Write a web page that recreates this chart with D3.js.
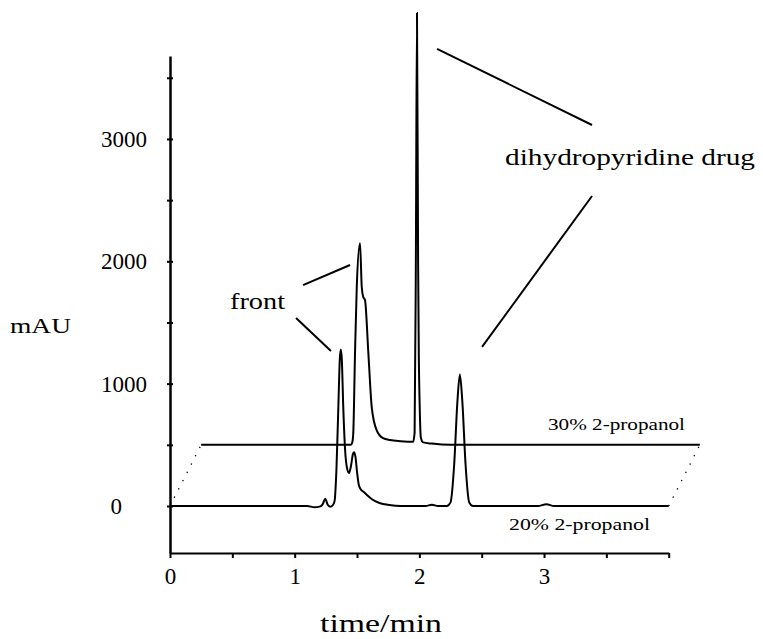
<!DOCTYPE html>
<html>
<head>
<meta charset="utf-8">
<script src="https://cdn.jsdelivr.net/npm/d3@7"></script>
<style>
    body { margin: 0; background: #fff; }
    svg text { font-family: "Liberation Serif", "Times New Roman", serif; fill: #000; }
</style>
</head>
<body>
<div id="chart"></div>
<script>
// tick labels
var timeTicks = [0, 1, 2, 3];
var absTicks = [0, 1000, 2000, 3000];

// chromatograms, [time (min), absorbance (mAU)]
var trace20 = [
    [0, 0], [1.10, 0], [1.16, -10], [1.20, -5], [1.225, 15], [1.245, 60], [1.265, 10],
    [1.285, -5], [1.305, 5], [1.320, 40], [1.335, 300], [1.350, 800], [1.362, 1200],
    [1.370, 1280], [1.378, 1200], [1.390, 800], [1.405, 450], [1.420, 310], [1.436, 270],
    [1.452, 330], [1.466, 420], [1.476, 440], [1.488, 400], [1.500, 280], [1.515, 170],
    [1.535, 130], [1.555, 115], [1.58, 90], [1.62, 55], [1.68, 25], [1.76, 8], [1.85, 0],
    [2.05, 0], [2.10, 10], [2.15, 0], [2.22, 0], [2.25, 30], [2.28, 350], [2.305, 850],
    [2.325, 1074], [2.345, 850], [2.37, 350], [2.40, 30], [2.43, 0], [2.95, 0], [3.02, 15],
    [3.08, 0], [4.0, 0]
];
var trace30 = [
    [0, 0], [1.20, 0], [1.212, 20], [1.220, 96], [1.234, 750], [1.248, 1290], [1.274, 1650],
    [1.288, 1290], [1.300, 1208], [1.314, 1184], [1.341, 750], [1.368, 309], [1.408, 119],
    [1.459, 55], [1.515, 39], [1.60, 30], [1.70, 25], [1.712, 100], [1.722, 1500],
    [1.731, 3530], [1.740, 1500], [1.746, 700], [1.752, 350], [1.762, 60], [1.78, 20],
    [1.85, 10], [2.0, 0], [4.0, 0]
];

// the 30% trace is drawn offset (pseudo 3D stacking)
var stackShift = [0.25, 500];

var traceLabels = ["30% 2-propanol", "20% 2-propanol"];
var peakLabels = ["front", "dihydropyridine drug"];
var axisTitles = ["time/min", "mAU"];

var width = 763, height = 639;

var svg = d3.select("#chart")
    .append("svg")
    .attr("width", width)
    .attr("height", height);

svg.append("rect").attr("width", width).attr("height", height).attr("fill", "#fff");

var x = d3.scaleLinear().domain([0, 4]).range([170, 668.7]);
var y = d3.scaleLinear().domain([-384, 3678]).range([553, 56]);

// x axis
var xAxis = d3.axisBottom(x)
    .tickValues(d3.range(0, 4.01, 0.5))
    .tickSizeInner(5)
    .tickSizeOuter(0)
    .tickPadding(10)
    .tickFormat(function(d) { return timeTicks.indexOf(d) >= 0 ? d : ""; });

var gx = svg.append("g")
    .attr("transform", "translate(0," + y(-384) + ")")
    .call(xAxis);
gx.select(".domain").attr("stroke-width", 2);
gx.selectAll(".tick line").attr("stroke-width", 2);
gx.selectAll(".tick text").style("font-size", "23px").attr("font-family", null);

// y axis
var yAxis = d3.axisLeft(y)
    .tickValues(d3.range(0, 3501, 500))
    .tickSizeInner(3)
    .tickSizeOuter(0)
    .tickPadding(20)
    .tickFormat(function(d) { return absTicks.indexOf(d) >= 0 ? d : ""; });

var gy = svg.append("g")
    .attr("transform", "translate(" + x(0) + ",0)")
    .call(yAxis);
gy.select(".domain").attr("stroke-width", 2.5);
gy.selectAll(".tick line").attr("x1", 3).attr("stroke-width", 2);
gy.selectAll(".tick text")
    .style("font-size", "23px")
    .attr("font-family", null)
    .attr("dx", function(d) { return d === 0 ? -25 : 0; });

// traces
var line = d3.line()
    .x(function(d) { return x(d[0]); })
    .y(function(d) { return y(d[1]); })
    .curve(d3.curveMonotoneX);

var shifted = trace30.map(function(d) { return [d[0] + stackShift[0], d[1] + stackShift[1]]; });

svg.append("path")
    .datum(trace20)
    .attr("d", line)
    .attr("fill", "none")
    .attr("stroke", "#000")
    .attr("stroke-width", 2);

svg.append("path")
    .datum(shifted)
    .attr("d", line)
    .attr("fill", "none")
    .attr("stroke", "#000")
    .attr("stroke-width", 2);

// dotted connectors between the two baselines
[0, 4].forEach(function(t) {
    svg.append("line")
        .attr("x1", x(t)).attr("y1", y(0))
        .attr("x2", x(t + stackShift[0])).attr("y2", y(stackShift[1]))
        .attr("stroke", "#000")
        .attr("stroke-width", 1.3)
        .attr("stroke-dasharray", "1.3,8");
});

// pointer lines (in data units)
var pointers = [
    [[1.067, 1806], [1.444, 1970]],
    [[1.011, 1537], [1.291, 1267]],
    [[2.142, 3736], [3.385, 3114]],
    [[3.385, 2534], [2.503, 1300]]
];
svg.selectAll(".pointer")
    .data(pointers)
    .enter().append("line")
    .attr("class", "pointer")
    .attr("x1", function(d) { return x(d[0][0]); })
    .attr("y1", function(d) { return y(d[0][1]); })
    .attr("x2", function(d) { return x(d[1][0]); })
    .attr("y2", function(d) { return y(d[1][1]); })
    .attr("stroke", "#000")
    .attr("stroke-width", 2);

// labels
function label(txt, px, py, size, len) {
    svg.append("text")
        .attr("x", px)
        .attr("y", py)
        .attr("textLength", len)
        .attr("lengthAdjust", "spacingAndGlyphs")
        .style("font-size", size + "px")
        .text(txt);
}

label(peakLabels[0], 230, 309, 24, 55);
label(peakLabels[1], 505, 165, 24, 250);
label(traceLabels[0], 548, 430, 17, 137);
label(traceLabels[1], 509, 530, 17, 141);
label(axisTitles[0], 320, 632, 25, 122);
label(axisTitles[1], 10, 333, 22, 61);
</script>
</body>
</html>
